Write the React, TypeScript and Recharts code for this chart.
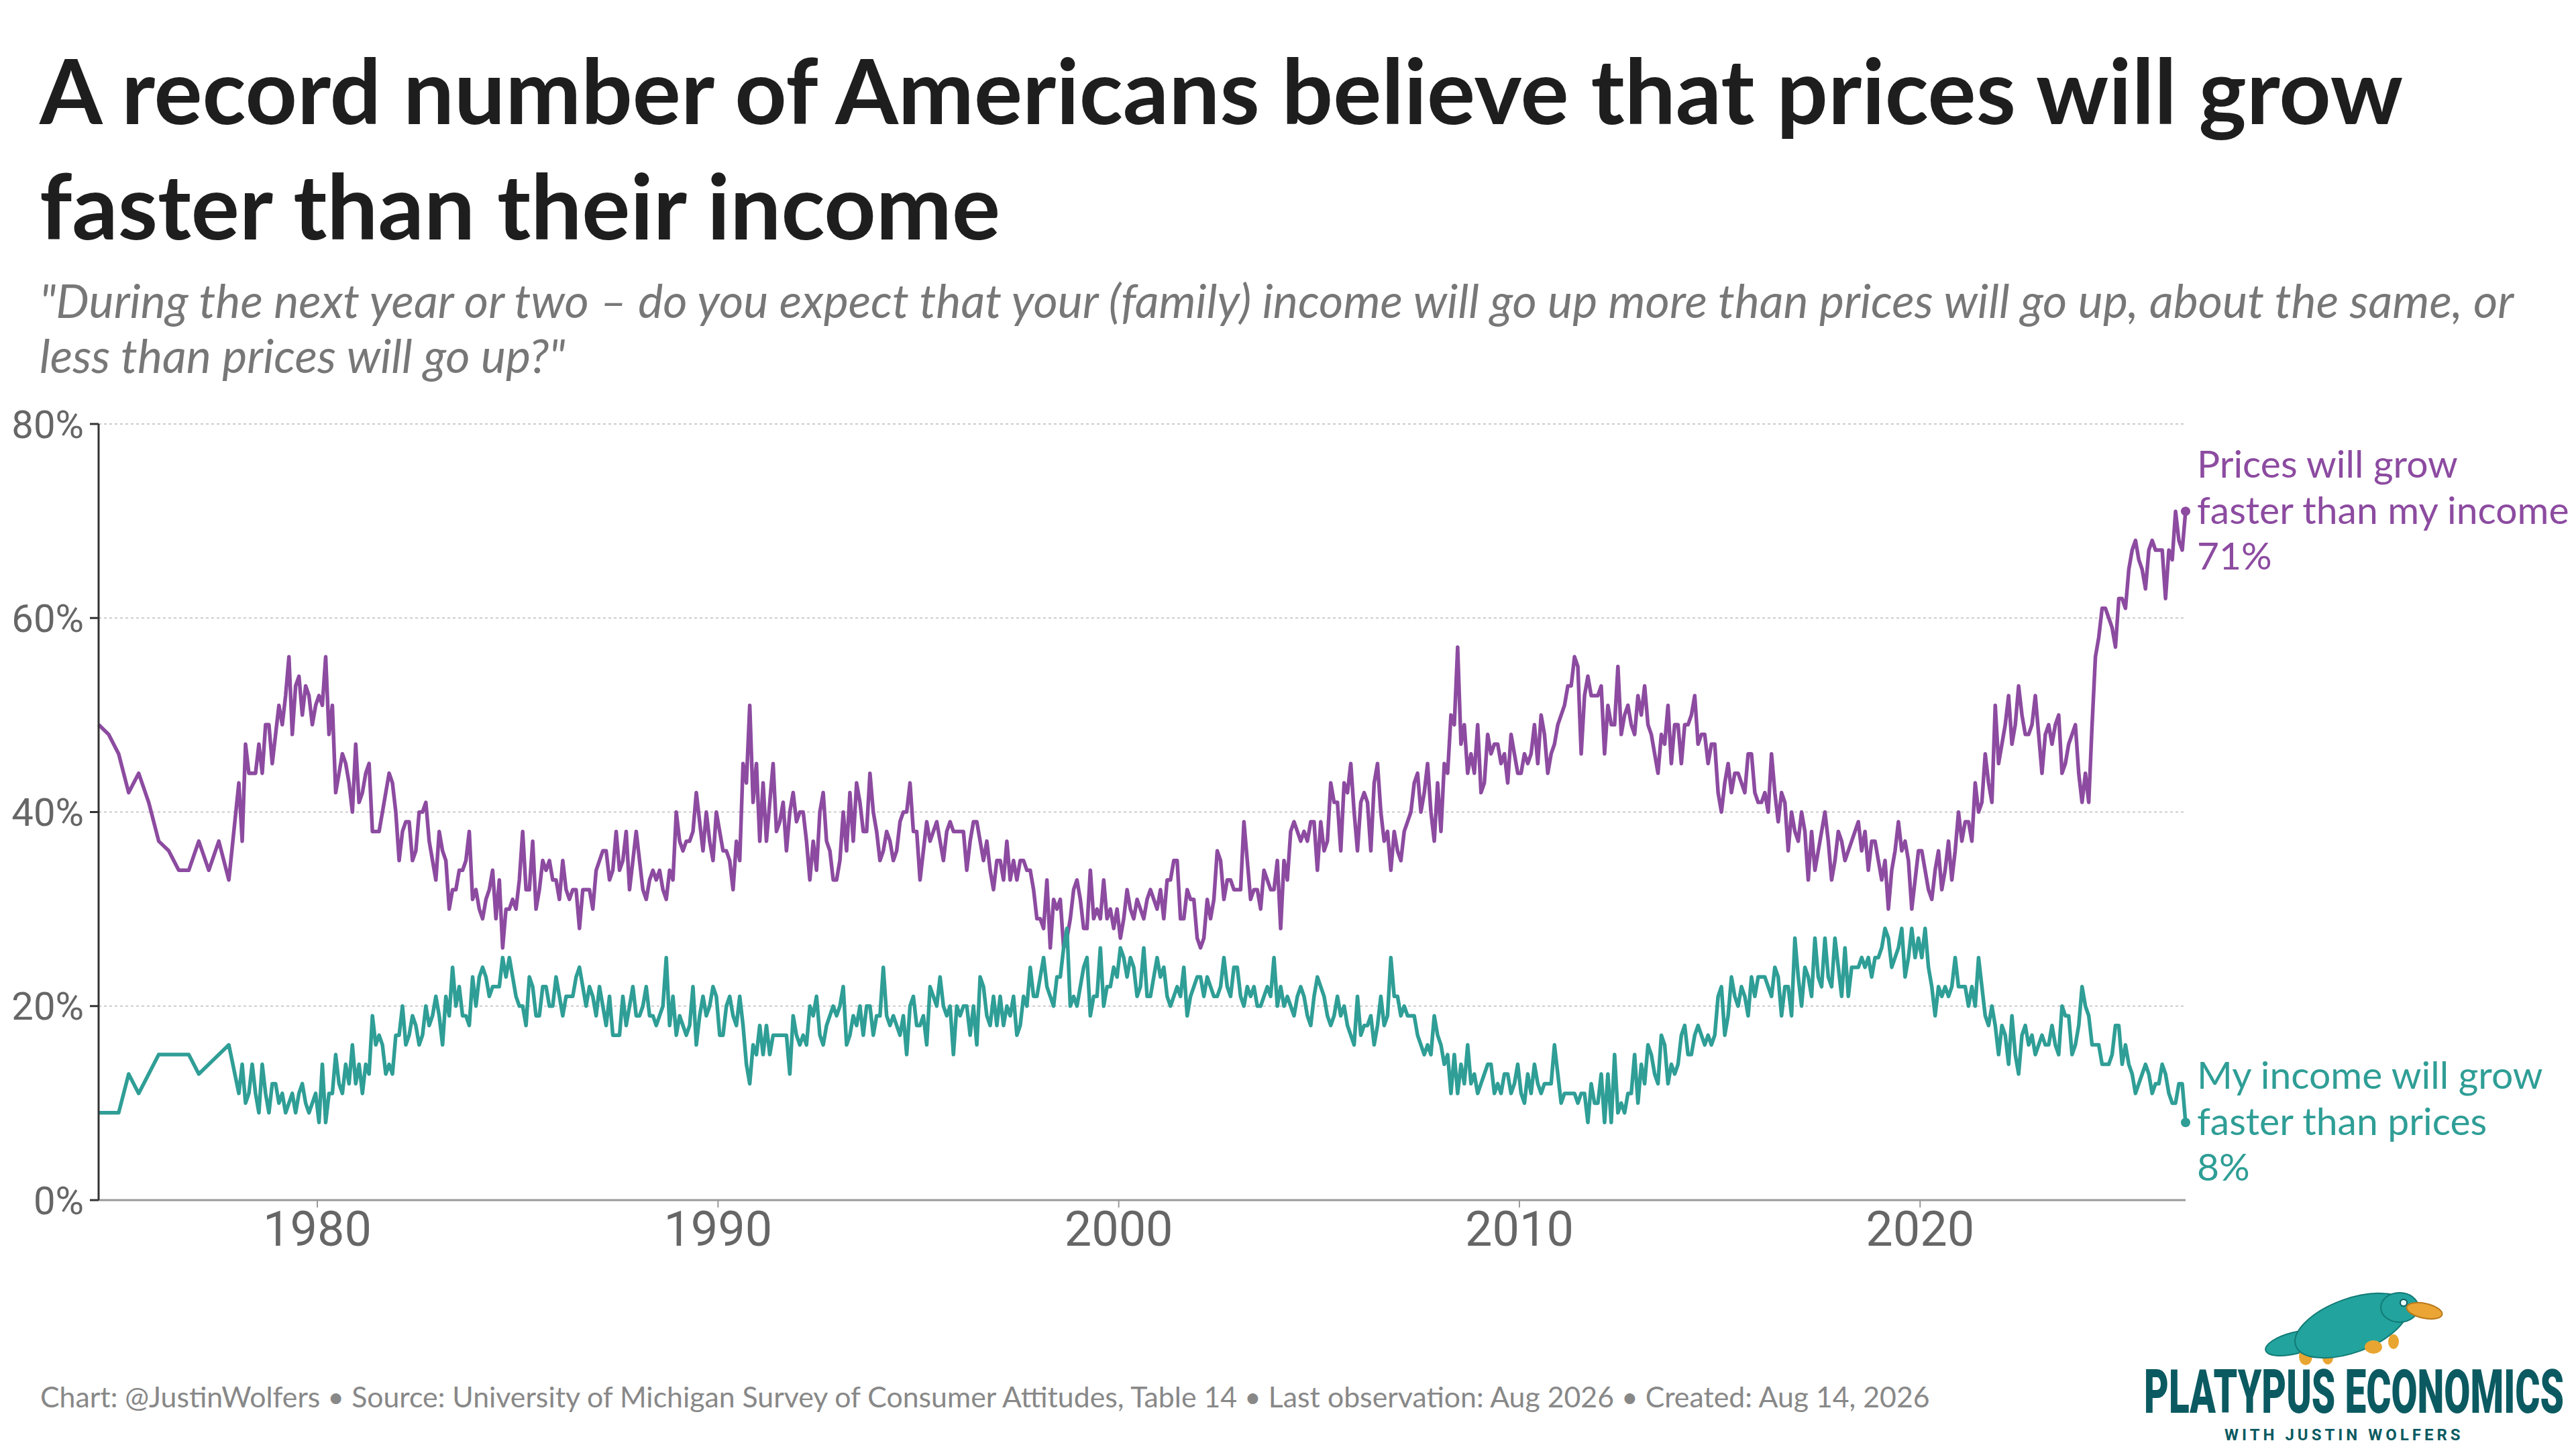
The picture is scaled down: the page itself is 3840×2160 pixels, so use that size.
import React from "react";
import { CartesianGrid, Line, LineChart, XAxis, YAxis } from "recharts";

// quarterly readings, Jul 1974 - Oct 1977
const pricesQuarterly = [49, 48, 46, 42, 44, 41, 37, 36, 34, 34, 37, 34, 37, 33];
const incomeQuarterly = [9, 9, 9, 13, 11, 13, 15, 15, 15, 15, 13, 14, 15, 16];

// monthly readings from Jan 1978, "prices will grow faster than my income" (%)
const prices1978to1989 = [
    43, 37, 47, 44, 44, 44, 47, 44, 49, 49, 45, 48,
    51, 49, 52, 56, 48, 53, 54, 50, 53, 52, 49, 51,
    52, 51, 56, 48, 51, 42, 44, 46, 45, 43, 40, 47,
    41, 42, 44, 45, 38, 38, 38, 40, 42, 44, 43, 40,
    35, 38, 39, 39, 35, 36, 40, 40, 41, 37, 35, 33,
    38, 36, 35, 30, 32, 32, 34, 34, 35, 38, 31, 32,
    30, 29, 31, 32, 34, 29, 33, 26, 30, 30, 31, 30,
    33, 38, 32, 32, 37, 30, 32, 35, 34, 35, 33, 33,
    31, 35, 32, 31, 32, 32, 28, 32, 32, 32, 30, 34,
    35, 36, 36, 33, 34, 38, 34, 35, 38, 32, 35, 38,
    35, 32, 31, 33, 34, 33, 34, 32, 31, 34, 33, 40,
    37, 36, 37, 37, 38, 42, 39, 36, 40, 37, 35, 40,
];
const prices1990to1999 = [
    38, 36, 36, 35, 32, 37, 35, 45, 43, 51, 41, 45,
    37, 43, 37, 41, 45, 38, 39, 41, 36, 40, 42, 39,
    40, 40, 37, 33, 37, 34, 40, 42, 37, 36, 33, 33,
    35, 40, 36, 42, 37, 43, 41, 38, 38, 44, 40, 38,
    35, 36, 38, 37, 35, 36, 39, 40, 40, 43, 38, 38,
    33, 36, 39, 37, 38, 39, 37, 35, 38, 39, 38, 38,
    38, 38, 34, 37, 39, 39, 37, 35, 37, 34, 32, 35,
    35, 33, 37, 33, 35, 33, 35, 35, 34, 34, 32, 29,
    29, 28, 33, 26, 31, 30, 31, 26, 27, 29, 32, 33,
    31, 28, 28, 34, 29, 30, 29, 33, 29, 30, 28, 30,
];
const prices2000to2009 = [
    27, 29, 32, 30, 29, 31, 30, 29, 31, 32, 31, 30,
    32, 29, 33, 33, 35, 35, 29, 29, 32, 31, 31, 27,
    26, 27, 31, 29, 31, 36, 35, 31, 33, 33, 32, 32,
    32, 39, 35, 31, 32, 32, 30, 34, 33, 32, 32, 35,
    28, 35, 33, 38, 39, 38, 37, 38, 37, 39, 39, 34,
    39, 36, 37, 43, 41, 41, 36, 43, 42, 45, 40, 36,
    41, 42, 41, 36, 43, 45, 40, 37, 38, 34, 38, 36,
    35, 38, 39, 40, 43, 44, 40, 42, 45, 40, 37, 43,
    38, 45, 44, 50, 49, 57, 47, 49, 44, 46, 44, 49,
    42, 43, 48, 46, 47, 47, 45, 46, 43, 48, 46, 44,
];
const prices2010to2019 = [
    44, 46, 45, 46, 49, 45, 50, 48, 44, 46, 47, 49,
    50, 51, 53, 53, 56, 55, 46, 52, 54, 52, 52, 52,
    53, 46, 51, 49, 49, 55, 48, 50, 51, 49, 48, 52,
    50, 53, 49, 48, 46, 44, 48, 47, 51, 45, 49, 49,
    45, 49, 49, 50, 52, 47, 48, 48, 45, 47, 47, 42,
    40, 43, 45, 42, 44, 44, 43, 42, 46, 46, 42, 41,
    41, 42, 40, 46, 42, 39, 42, 41, 36, 40, 38, 37,
    40, 38, 33, 38, 34, 36, 38, 40, 37, 33, 35, 38,
    37, 35, 36, 37, 38, 39, 36, 38, 34, 37, 37, 35,
    33, 35, 30, 34, 36, 39, 36, 37, 35, 30, 33, 36,
];
const prices2020to2026 = [
    36, 34, 32, 31, 34, 36, 32, 34, 37, 33, 36, 40,
    37, 39, 39, 37, 43, 40, 41, 46, 43, 41, 51, 45,
    47, 49, 52, 47, 49, 53, 50, 48, 48, 49, 52, 48,
    44, 48, 49, 47, 49, 50, 44, 45, 47, 48, 49, 44,
    41, 44, 41, 49, 56, 58, 61, 61, 60, 59, 57, 62,
    62, 61, 65, 67, 68, 66, 65, 63, 67, 68, 67, 67,
    67, 62, 67, 66, 71, 68, 67, 71,
];

// monthly readings from Jan 1978, "my income will grow faster than prices" (%)
const income1978to1989 = [
    11, 14, 10, 11, 14, 11, 9, 14, 11, 9, 12, 12,
    10, 11, 9, 10, 11, 9, 11, 12, 10, 9, 10, 11,
    8, 14, 8, 11, 11, 15, 12, 11, 14, 12, 16, 12,
    14, 11, 14, 13, 19, 16, 17, 16, 13, 14, 13, 17,
    17, 20, 16, 17, 19, 18, 16, 17, 20, 18, 19, 21,
    19, 16, 21, 19, 24, 20, 22, 19, 19, 18, 23, 20,
    23, 24, 23, 21, 22, 22, 22, 25, 23, 25, 23, 21,
    20, 20, 18, 23, 22, 19, 19, 22, 22, 20, 20, 23,
    21, 19, 21, 21, 21, 23, 24, 22, 20, 22, 21, 19,
    22, 20, 18, 21, 17, 17, 17, 21, 18, 20, 22, 19,
    19, 20, 22, 19, 19, 18, 19, 20, 25, 18, 21, 17,
    19, 18, 17, 18, 22, 16, 19, 21, 19, 20, 22, 21,
];
const income1990to1999 = [
    17, 17, 20, 21, 19, 18, 21, 18, 14, 12, 16, 15,
    18, 15, 18, 15, 17, 17, 17, 17, 17, 13, 19, 17,
    16, 17, 16, 20, 19, 21, 17, 16, 18, 19, 20, 19,
    20, 22, 16, 17, 19, 18, 20, 17, 20, 20, 17, 19,
    19, 24, 19, 18, 19, 18, 17, 19, 15, 20, 21, 18,
    18, 19, 16, 22, 21, 20, 23, 20, 19, 20, 15, 20,
    19, 20, 20, 17, 20, 16, 23, 22, 19, 18, 21, 18,
    21, 18, 20, 19, 21, 17, 18, 21, 20, 24, 21, 21,
    23, 25, 22, 21, 20, 23, 23, 26, 28, 20, 21, 20,
    22, 24, 25, 19, 21, 21, 26, 20, 22, 22, 24, 23,
];
const income2000to2009 = [
    26, 25, 23, 25, 24, 21, 22, 26, 21, 21, 23, 25,
    23, 24, 21, 20, 21, 22, 21, 24, 19, 21, 22, 23,
    23, 21, 23, 22, 21, 21, 22, 25, 22, 21, 24, 24,
    21, 20, 22, 21, 22, 20, 20, 21, 22, 21, 25, 20,
    22, 20, 21, 20, 19, 21, 22, 21, 19, 18, 21, 23,
    22, 21, 19, 18, 19, 21, 19, 20, 18, 17, 16, 21,
    17, 18, 18, 19, 16, 18, 21, 18, 19, 25, 21, 21,
    19, 20, 19, 19, 19, 17, 16, 15, 16, 15, 19, 17,
    16, 14, 15, 11, 15, 11, 14, 12, 16, 12, 13, 11,
    12, 13, 14, 14, 11, 12, 11, 13, 13, 11, 12, 14,
];
const income2010to2019 = [
    11, 10, 13, 11, 14, 12, 11, 12, 12, 12, 16, 13,
    10, 11, 11, 11, 11, 10, 11, 11, 8, 12, 10, 10,
    13, 8, 13, 8, 15, 9, 10, 9, 11, 11, 15, 10,
    14, 12, 16, 15, 13, 12, 17, 16, 12, 14, 13, 14,
    17, 18, 15, 15, 17, 18, 17, 16, 17, 16, 17, 21,
    22, 17, 19, 23, 21, 20, 22, 21, 19, 23, 21, 23,
    23, 23, 22, 21, 24, 23, 19, 22, 22, 19, 27, 23,
    20, 24, 23, 21, 27, 23, 22, 27, 23, 22, 27, 24,
    21, 26, 21, 24, 24, 24, 25, 24, 25, 23, 25, 25,
    26, 28, 27, 24, 25, 26, 28, 23, 25, 28, 25, 27,
];
const income2020to2026 = [
    25, 28, 24, 22, 19, 22, 21, 22, 21, 22, 25, 22,
    22, 22, 20, 22, 20, 25, 22, 19, 18, 20, 18, 15,
    18, 17, 14, 19, 15, 13, 17, 18, 16, 17, 15, 16,
    17, 16, 16, 18, 16, 15, 20, 19, 19, 15, 16, 18,
    22, 20, 19, 16, 16, 16, 14, 14, 14, 15, 18, 18,
    14, 16, 14, 13, 11, 12, 13, 14, 13, 11, 12, 12,
    14, 13, 11, 10, 10, 12, 12, 8,
];

const yearTicks = [1980, 1990, 2000, 2010, 2020];
const pctTicks = [0, 20, 40, 60, 80];

const PURPLE = "#8c4ba0";
const TEAL = "#2f9e96";

const pricesMonthly = [
    ...prices1978to1989,
    ...prices1990to1999,
    ...prices2000to2009,
    ...prices2010to2019,
    ...prices2020to2026,
];
const incomeMonthly = [
    ...income1978to1989,
    ...income1990to1999,
    ...income2000to2009,
    ...income2010to2019,
    ...income2020to2026,
];

// x is a decimal year, plotted mid-month
const data = [
    ...pricesQuarterly.map((p, i) => ({
        t: 1974.5 + i * 0.25 + 1 / 24,
        prices: p,
        income: incomeQuarterly[i],
    })),
    ...pricesMonthly.map((p, i) => ({
        t: 1978 + (i + 0.5) / 12,
        prices: p,
        income: incomeMonthly[i],
    })),
];
const lastIndex = data.length - 1;

function endLabel(color, lines) {
    return (props) => {
        const { cx, cy, index } = props;
        if (index !== lastIndex) return <g key={`d${index}`} />;
        return (
            <g key={`d${index}`}>
                <circle cx={cx} cy={cy} r={7} fill={color} />
                {lines.map((txt, i) => (
                    <text
                        key={i}
                        x={cx + 17}
                        y={cy - 50 + i * 68.5}
                        fill={color}
                        fontFamily="Lato"
                        fontSize={57}
                    >
                        {txt}
                    </text>
                ))}
            </g>
        );
    };
}

function Platypus() {
    return (
        <g>
            <ellipse cx={3421} cy={2002} rx={45} ry={16} fill="#22a39d" stroke="#127a76" strokeWidth={2} transform="rotate(-14 3421 2002)" />
            <ellipse cx={3437} cy={2022} rx={10} ry={13} fill="#e9a531" />
            <ellipse cx={3470} cy={2024} rx={8} ry={10} fill="#e9a531" />
            <ellipse cx={3505} cy={1976} rx={88} ry={40} fill="#22a39d" stroke="#127a76" strokeWidth={2} transform="rotate(-20 3505 1976)" />
            <ellipse cx={3538} cy={2008} rx={13} ry={10} fill="#e9a531" />
            <ellipse cx={3568} cy={2000} rx={8} ry={11} fill="#e9a531" />
            <ellipse cx={3577} cy={1949} rx={28} ry={22} fill="#22a39d" stroke="#127a76" strokeWidth={2} />
            <ellipse cx={3614} cy={1954} rx={27} ry={11} fill="#eba534" stroke="#b9791c" strokeWidth={2} transform="rotate(12 3614 1954)" />
            <circle cx={3583} cy={1942} r={5} fill="#e8ffff" stroke="#0f5b5a" strokeWidth={2} />
        </g>
    );
}

export default function App() {
    return (
        <div
            style={{
                position: "absolute",
                left: 0,
                top: 0,
                width: 3840,
                height: 2160,
                background: "#ffffff",
                overflow: "hidden",
            }}
        >
            <svg
                width={3840}
                height={2160}
                style={{ position: "absolute", left: 0, top: 0 }}
            >
                <text x={59} y={185} fontFamily="Lato" fontWeight={700} fontSize={135} fill="#1e1e1e">
                    A record number of Americans believe that prices will grow
                </text>
                <text x={59} y={357} fontFamily="Lato" fontWeight={700} fontSize={135} fill="#1e1e1e">
                    faster than their income
                </text>
                <text x={59} y={474} fontFamily="Lato" fontStyle="italic" fontSize={70} fill="#777777">
                    "During the next year or two – do you expect that your (family) income will go up more than prices will go up, about the same, or
                </text>
                <text x={59} y={556} fontFamily="Lato" fontStyle="italic" fontSize={70} fill="#777777">
                    less than prices will go up?"
                </text>
                <text x={60} y={2098} fontFamily="Lato" fontSize={42.8} fill="#888888">
                    Chart: @JustinWolfers • Source: University of Michigan Survey of Consumer Attitudes, Table 14 • Last observation: Aug 2026 • Created: Aug 14, 2026
                </text>
                <Platypus />
                <g transform="translate(3196 2106) scale(1 1.68)">
                    <text
                        x={0}
                        y={0}
                        fontFamily="Roboto"
                        fontWeight={900}
                        fontSize={54}
                        fill="#0b5a61"
                        textLength={626}
                        lengthAdjust="spacingAndGlyphs"
                    >
                        PLATYPUS ECONOMICS
                    </text>
                </g>
                <text
                    x={3316}
                    y={2147}
                    fontFamily="Roboto"
                    fontWeight={700}
                    fontSize={24}
                    fill="#0b5a61"
                    letterSpacing={5}
                >
                    WITH JUSTIN WOLFERS
                </text>
            </svg>
            <div style={{ position: "absolute", left: 0, top: 0 }}>
                <LineChart
                    width={3840}
                    height={2160}
                    data={data}
                    margin={{ top: 632, right: 582, left: 7, bottom: 271 }}
                >
                    <CartesianGrid
                        vertical={false}
                        stroke="#cccccc"
                        strokeWidth={2}
                        strokeDasharray="4 4"
                    />
                    <XAxis
                        dataKey="t"
                        type="number"
                        domain={["dataMin", "dataMax"]}
                        ticks={yearTicks}
                        height={100}
                        tickSize={11}
                        tickMargin={6}
                        axisLine={{ stroke: "#999999", strokeWidth: 3 }}
                        tickLine={{ stroke: "#999999", strokeWidth: 2 }}
                        tick={{ fill: "#666666", fontSize: 72, fontFamily: "Roboto" }}
                    />
                    <YAxis
                        domain={[0, 80]}
                        ticks={pctTicks}
                        width={140}
                        tickSize={13}
                        tickMargin={9}
                        tickFormatter={(v) => `${v}%`}
                        axisLine={{ stroke: "#333333", strokeWidth: 3 }}
                        tickLine={{ stroke: "#333333", strokeWidth: 3 }}
                        tick={{ fill: "#666666", fontSize: 58, fontFamily: "Roboto" }}
                    />
                    <Line
                        type="linear"
                        dataKey="prices"
                        stroke={PURPLE}
                        strokeWidth={5.5}
                        strokeLinejoin="round"
                        dot={endLabel(PURPLE, ["Prices will grow", "faster than my income", "71%"])}
                        activeDot={false}
                        isAnimationActive={false}
                    />
                    <Line
                        type="linear"
                        dataKey="income"
                        stroke={TEAL}
                        strokeWidth={5.5}
                        strokeLinejoin="round"
                        dot={endLabel(TEAL, ["My income will grow", "faster than prices", "8%"])}
                        activeDot={false}
                        isAnimationActive={false}
                    />
                </LineChart>
            </div>
        </div>
    );
}
